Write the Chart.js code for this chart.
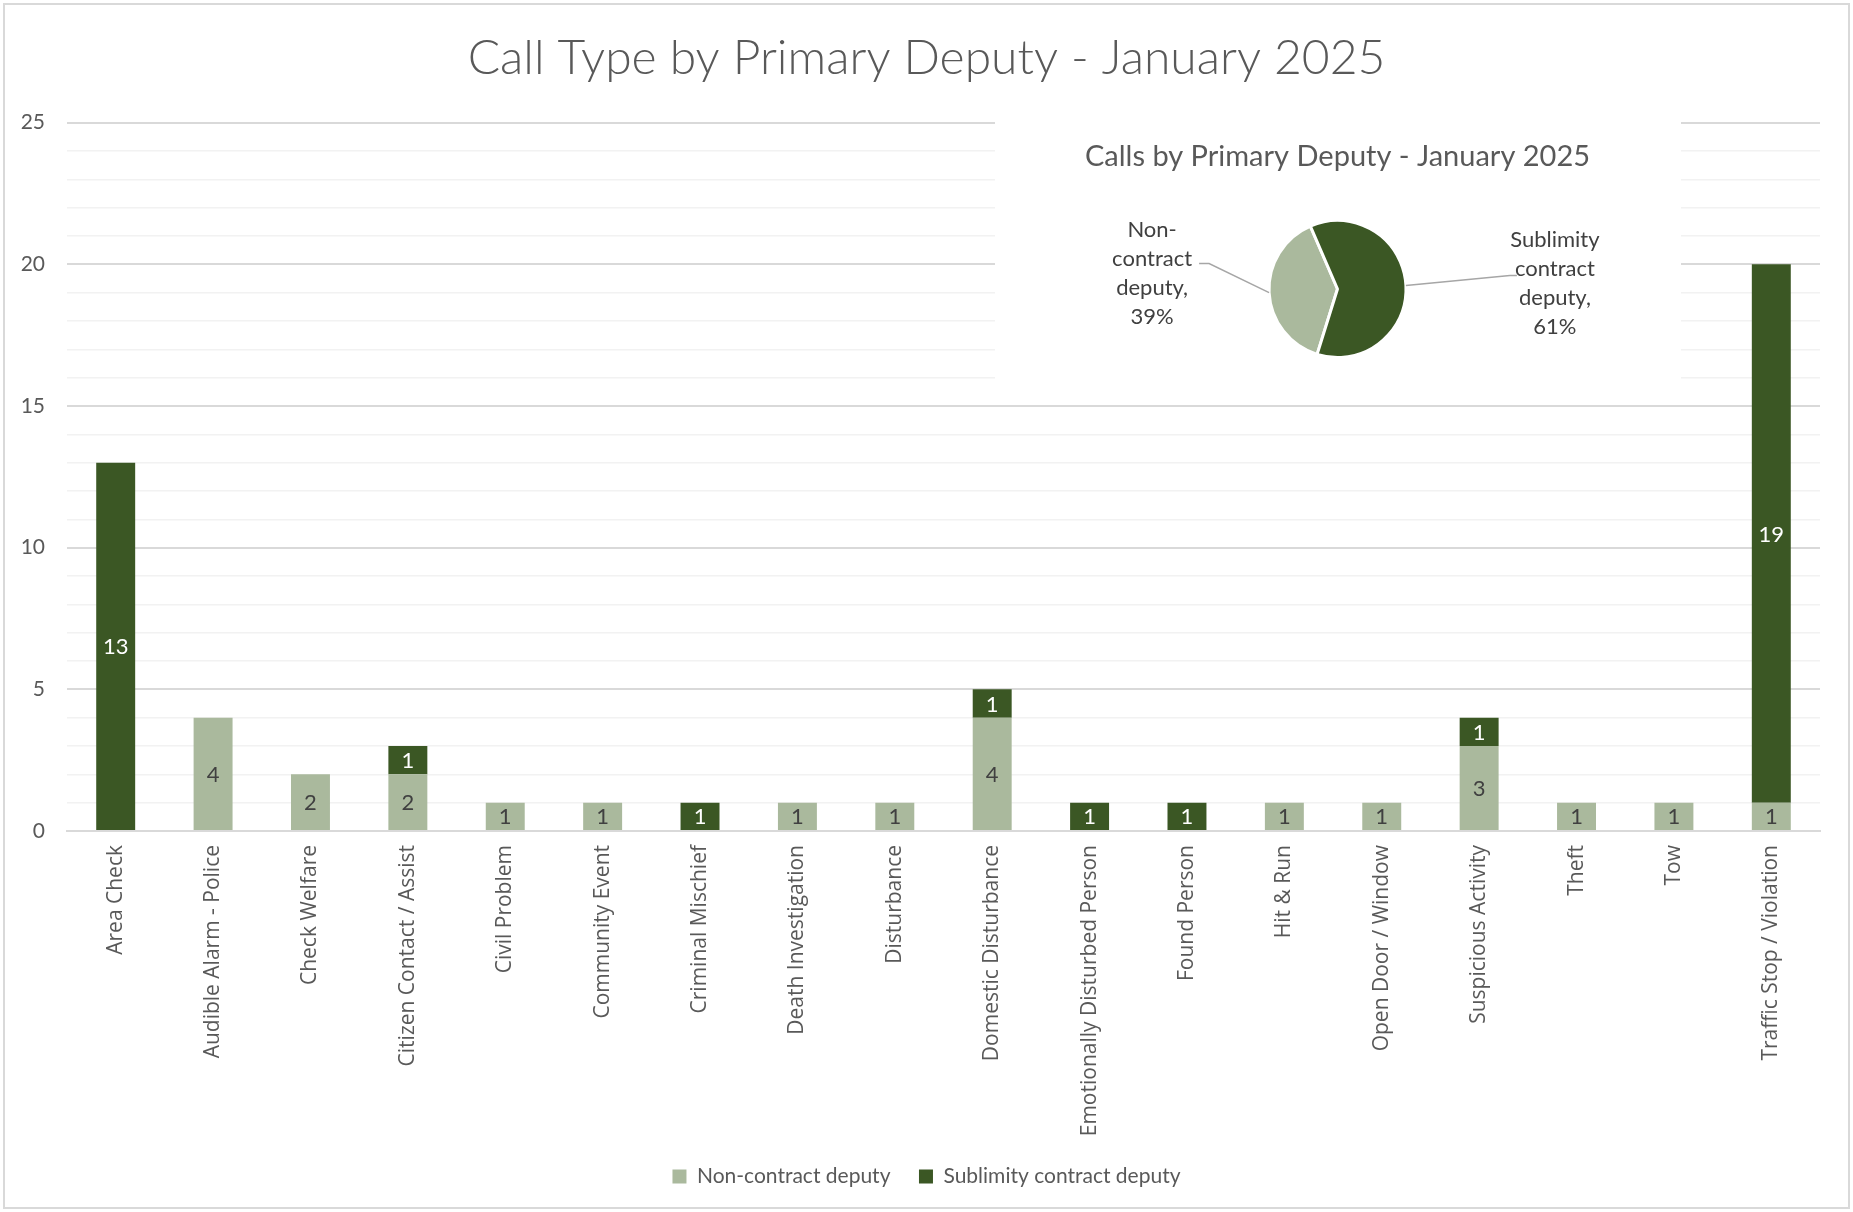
<!DOCTYPE html>
<html lang="en">
<head>
<meta charset="UTF-8">
<title>Call Type by Primary Deputy - January 2025</title>
<script src="https://cdn.jsdelivr.net/npm/chart.js"></script>
<style>
  html, body { margin: 0; padding: 0; background: #fff; }
  #frame { position: absolute; left: 3px; top: 3px; width: 1847px; height: 1206px; border: 2px solid #d9d9d9; box-sizing: border-box; }
  #barWrap { position: absolute; left: 0; top: 0; width: 1853px; height: 1212px; }
  #pieBox { position: absolute; left: 995px; top: 110px; width: 686px; height: 285px; background: #fff; }
</style>
</head>
<body>
<div id="frame"></div>
<div id="barWrap"><canvas id="barChart"></canvas></div>
<div id="pieBox"><canvas id="pieChart"></canvas></div>

<script>
// call types on the x axis
const categories = [
    'Area Check', 'Audible Alarm - Police', 'Check Welfare', 'Citizen Contact / Assist',
    'Civil Problem', 'Community Event', 'Criminal Mischief', 'Death Investigation',
    'Disturbance', 'Domestic Disturbance', 'Emotionally Disturbed Person', 'Found Person',
    'Hit & Run', 'Open Door / Window', 'Suspicious Activity', 'Theft', 'Tow',
    'Traffic Stop / Violation'
];
const seriesNames = ['Non-contract deputy', 'Sublimity contract deputy'];
const nonContract = [0, 4, 2, 2, 1, 1, 0, 1, 1, 4, 0, 0, 1, 1, 3, 1, 1, 1];
const sublimity = [13, 0, 0, 1, 0, 0, 1, 0, 0, 1, 1, 1, 0, 0, 1, 0, 0, 19];
const yTickLabels = [0, 5, 10, 15, 20, 25];

// inset pie: total calls per deputy type
const pieCounts = [24, 38];
const pieLabelLines = [['Non-', 'contract', 'deputy,'], ['Sublimity', 'contract', 'deputy,']];

const lightGreen = '#aab99d';
const darkGreen = '#3b5724';
const valueColors = ['#404040', '#ffffff'];

Chart.defaults.font.family = 'Lato';
Chart.defaults.color = '#595959';

// numbers in the middle of each stacked segment
const barValueLabels = {
    id: 'barValueLabels',
    afterDatasetsDraw(chart) {
        const ctx = chart.ctx;
        ctx.save();
        ctx.font = '22px Lato';
        ctx.textAlign = 'center';
        ctx.textBaseline = 'middle';
        chart.data.datasets.forEach((ds, i) => {
            chart.getDatasetMeta(i).data.forEach((bar, j) => {
                const v = ds.data[j];
                if (!v) return;
                ctx.fillStyle = valueColors[i];
                ctx.fillText(v, bar.x, (bar.y + bar.base) / 2 + 1);
            });
        });
        ctx.restore();
    }
};

new Chart(document.getElementById('barChart'), {
    type: 'bar',
    data: {
        labels: categories,
        datasets: [
            { label: seriesNames[0], data: nonContract, backgroundColor: lightGreen, borderWidth: 0, barPercentage: 0.4, categoryPercentage: 1 },
            { label: seriesNames[1], data: sublimity, backgroundColor: darkGreen, borderWidth: 0, barPercentage: 0.4, categoryPercentage: 1 }
        ]
    },
    options: {
        animation: false,
        responsive: true,
        maintainAspectRatio: false,
        layout: { padding: { left: 0, right: 0, top: 0, bottom: 15 } },
        plugins: {
            title: {
                display: true,
                text: 'Call Type by Primary Deputy - January 2025',
                color: '#595959',
                font: { size: 48, weight: 300 },
                padding: { top: 30, bottom: 35 }
            },
            legend: {
                position: 'bottom',
                labels: { boxWidth: 14, boxHeight: 14, padding: 28.5, color: '#595959', font: { size: 21 } }
            },
            tooltip: { enabled: false }
        },
        scales: {
            x: {
                stacked: true,
                grid: { display: false },
                border: { color: '#d9d9d9', width: 2 },
                ticks: {
                    minRotation: 90, maxRotation: 90, autoSkip: false, padding: 6,
                    color: '#595959', font: { family: 'Open Sans', size: 21 }
                },
                afterFit: s => { s.height = 306.5; }
            },
            y: {
                stacked: true,
                min: 0,
                max: 25,
                border: { display: false },
                grid: {
                    drawTicks: false,
                    color: c => (c.tick.value % 5 === 0 ? '#d9d9d9' : '#f2f2f2'),
                    lineWidth: c => (c.tick.value % 5 === 0 ? 2 : 1.5)
                },
                ticks: {
                    stepSize: 1, autoSkip: false, padding: 22,
                    color: '#595959', font: { size: 21 },
                    callback: v => (yTickLabels.includes(v) ? v : '')
                },
                afterFit: s => { s.width = 67; }
            },
            // empty right-hand axis, keeps the plot clear of the frame
            yRight: {
                position: 'right',
                display: true,
                grid: { display: false },
                border: { display: false },
                ticks: { display: false },
                afterFit: s => { s.width = 33; }
            }
        }
    },
    plugins: [barValueLabels]
});

// leader lines and wrapped labels for the pie slices
const calloutStyle = [
    { elbow: [-60, -29], tail: -10, text: [-117, -19] },
    { elbow: [104, -10], tail: 7, text: [149, -2] }
];
const pieCallouts = {
    id: 'pieCallouts',
    afterDatasetsDraw(chart) {
        const ctx = chart.ctx;
        const total = pieCounts.reduce((a, b) => a + b, 0);
        ctx.save();
        chart.getDatasetMeta(0).data.forEach((arc, i) => {
            const p = arc.getProps(['x', 'y', 'startAngle', 'endAngle', 'outerRadius']);
            const mid = (p.startAngle + p.endAngle) / 2;
            const ex = p.x + Math.cos(mid) * p.outerRadius;
            const ey = p.y + Math.sin(mid) * p.outerRadius;
            const c = calloutStyle[i];
            ctx.strokeStyle = '#a6a6a6';
            ctx.lineWidth = 1.5;
            ctx.beginPath();
            ctx.moveTo(ex, ey);
            ctx.lineTo(ex + c.elbow[0], ey + c.elbow[1]);
            ctx.lineTo(ex + c.elbow[0] + c.tail, ey + c.elbow[1]);
            ctx.stroke();

            const lines = pieLabelLines[i].concat(Math.round(pieCounts[i] / total * 100) + '%');
            const lh = 29;
            ctx.font = '22px Lato';
            ctx.fillStyle = '#404040';
            ctx.textAlign = 'center';
            ctx.textBaseline = 'middle';
            const cx = ex + c.text[0];
            const cy = ey + c.text[1] - lh * (lines.length - 1) / 2;
            lines.forEach((t, k) => ctx.fillText(t, cx, cy + k * lh));
        });
        ctx.restore();
    }
};

new Chart(document.getElementById('pieChart'), {
    type: 'pie',
    data: {
        labels: seriesNames,
        datasets: [{
            data: pieCounts,
            backgroundColor: [lightGreen, darkGreen],
            borderColor: '#ffffff',
            borderWidth: 3
        }]
    },
    options: {
        animation: false,
        responsive: true,
        maintainAspectRatio: false,
        rotation: 197.3,
        radius: 68.5,
        layout: { padding: { left: 0, right: 1, top: 0, bottom: 37.5 } },
        plugins: {
            title: {
                display: true,
                text: 'Calls by Primary Deputy - January 2025',
                color: '#595959',
                font: { size: 29, weight: 'normal' },
                padding: { top: 29.3, bottom: 46.4 }
            },
            legend: { display: false },
            tooltip: { enabled: false }
        }
    },
    plugins: [pieCallouts]
});
</script>
</body>
</html>
